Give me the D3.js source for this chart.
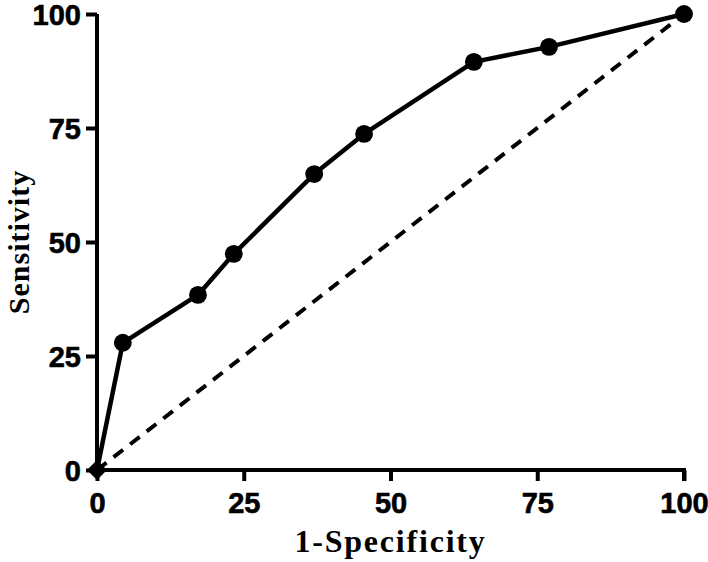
<!DOCTYPE html>
<html><head><meta charset="utf-8">
<script src="https://cdn.jsdelivr.net/npm/d3@7"></script>
<style>body{margin:0;background:#fff}</style>
</head><body>
<svg id="c" width="708" height="562"></svg>
<script>
const fpr = [0, 4.4, 17.2, 23.3, 37.0, 45.5, 64.2, 77.0, 100];
const sensitivity = [0, 27.9, 38.4, 47.4, 64.9, 73.7, 89.5, 92.8, 100];
const xTicks = [0, 25, 50, 75, 100];
const yTicks = [0, 25, 50, 75, 100];
const xTitle = "1-Specificity";
const yTitle = "Sensitivity";

const svg = d3.select("#c");
const x = d3.scaleLinear().domain([0, 100]).range([97, 684]);
const y = d3.scaleLinear().domain([0, 100]).range([470, 14]);

const tickFont = "'Liberation Sans', Arial, sans-serif";
const titleFont = "'Liberation Serif', 'Times New Roman', serif";

// axes
const xAxis = svg.append("g").attr("transform", "translate(0,470)")
  .call(d3.axisBottom(x).tickValues(xTicks).tickSize(11).tickSizeOuter(11).tickPadding(11));
const yAxis = svg.append("g").attr("transform", "translate(97,0)")
  .call(d3.axisLeft(y).tickValues(yTicks).tickSize(11).tickSizeOuter(0).tickPadding(5));
[xAxis, yAxis].forEach(g => {
  g.select(".domain").attr("stroke", "#000").attr("stroke-width", 4);
  g.selectAll(".tick line").attr("stroke", "#000").attr("stroke-width", 4);
  g.selectAll("text").attr("fill", "#000").attr("font-family", tickFont)
    .attr("font-weight", "bold").attr("font-size", 29)
    .attr("stroke", "#000").attr("stroke-width", 0.6);
});
yAxis.selectAll(".tick text").attr("dy", "0.36em");
yAxis.select(".domain").attr("d", "M0," + y(100) + "V" + y(0));
xAxis.select(".domain").attr("d", "M" + x(0) + ",0H" + x(100) + "V11");

// reference diagonal
svg.append("line")
  .attr("x1", x(0)).attr("y1", y(0)).attr("x2", x(100)).attr("y2", y(100))
  .attr("stroke", "#000").attr("stroke-width", 4).attr("stroke-dasharray", "12,9");

// ROC curve
const pts = fpr.map((v, i) => [v, sensitivity[i]]);
svg.append("path").datum(pts)
  .attr("fill", "none").attr("stroke", "#000").attr("stroke-width", 4.5)
  .attr("stroke-linejoin", "round")
  .attr("d", d3.line().x(d => x(d[0])).y(d => y(d[1])));

svg.selectAll("path.pt").data(pts).enter().append("path").attr("class", "pt")
  .attr("transform", d => "translate(" + x(d[0]) + "," + y(d[1]) + ")" + (d[0] === 0 ? " rotate(45)" : ""))
  .attr("d", (d, i) => i === 0 ? d3.symbol(d3.symbolSquare, 200)() : d3.symbol(d3.symbolCircle, 250)())
  .attr("fill", "#000");

// titles
svg.append("text").attr("x", (x(0) + x(100)) / 2).attr("y", 552)
  .attr("text-anchor", "middle").attr("font-family", titleFont).attr("font-weight", "bold")
  .attr("font-size", 32).attr("letter-spacing", 1.8).text(xTitle);
svg.append("text").attr("transform", "translate(29," + (y(0) + y(100)) / 2 + ") rotate(-90)")
  .attr("text-anchor", "middle").attr("font-family", titleFont).attr("font-weight", "bold")
  .attr("font-size", 30).attr("letter-spacing", 1).text(yTitle);
</script>
</body></html>
